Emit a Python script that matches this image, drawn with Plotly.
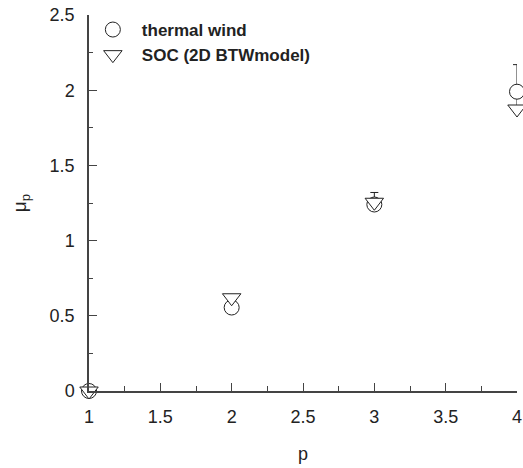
import plotly.graph_objects as go

# ---- data ----
p_vals = [1, 2, 3, 4]
thermal_wind = [0.0, 0.555, 1.24, 1.99]
thermal_wind_err_plus = [0.0, 0.0, 0.08, 0.18]
thermal_wind_err_minus = [0.0, 0.0, 0.04, 0.10]
soc_btw = [0.0, 0.62, 1.255, 1.875]

x_ticks = [1, 1.5, 2, 2.5, 3, 3.5, 4]
x_ticklabels = ["1", "1.5", "2", "2.5", "3", "3.5", "4"]
y_ticks = [0, 0.5, 1, 1.5, 2, 2.5]
y_ticklabels = ["0", "0.5", "1", "1.5", "2", "2.5"]

FONT = "Liberation Sans, Arial, sans-serif"
INK = "#222222"

fig = go.Figure()
fig.add_trace(go.Scatter(
    x=p_vals, y=thermal_wind, mode="markers", name="thermal wind",
    marker=dict(symbol="circle", size=15, color="white",
                line=dict(color=INK, width=1)),
    error_y=dict(type="data", array=thermal_wind_err_plus,
                 arrayminus=thermal_wind_err_minus, symmetric=False,
                 visible=True, color=INK, thickness=1, width=4),
    cliponaxis=False,
))
fig.add_trace(go.Scatter(
    x=p_vals, y=soc_btw, mode="markers", name="SOC (2D BTWmodel)",
    marker=dict(symbol="triangle-down", size=16, color="white",
                line=dict(color=INK, width=1)),
    cliponaxis=False,
))

axis_common = dict(
    showline=True, linecolor="#444444", linewidth=1.5, mirror=False,
    showgrid=False, zeroline=False, automargin=False,
    ticks="inside", ticklen=8, tickwidth=1, tickcolor="#444444",
    tickfont=dict(family=FONT, size=18, color=INK),
)

fig.update_layout(
    width=523, height=468,
    margin=dict(l=89, r=6, t=15, b=77),
    paper_bgcolor="white", plot_bgcolor="white",
    font=dict(family=FONT, color=INK),
    xaxis=dict(range=[1, 4], tickmode="array", tickvals=x_ticks,
               ticktext=x_ticklabels, ticklabelstandoff=9,
               minor=dict(dtick=0.25, ticks="inside", ticklen=5,
                          tickcolor="#444444"),
               title=dict(text="p", font=dict(family=FONT, size=18, color=INK),
                          standoff=21),
               **axis_common),
    yaxis=dict(range=[0, 2.5], tickmode="array", tickvals=y_ticks,
               ticktext=y_ticklabels, ticklabelstandoff=9,
               minor=dict(dtick=0.25, ticks="inside", ticklen=4,
                          tickcolor="#444444"),
               title=dict(text="μ<sub>p</sub>",
                          font=dict(family=FONT, size=19, color=INK),
                          standoff=18),
               **axis_common),
    legend=dict(x=-0.012, y=1.008, xanchor="left", yanchor="top",
                bgcolor="rgba(0,0,0,0)", itemwidth=48,
                font=dict(family=FONT, size=17, color=INK, weight="bold"),
                tracegroupgap=0),
    showlegend=True,
)

fig.write_html("out.html")
